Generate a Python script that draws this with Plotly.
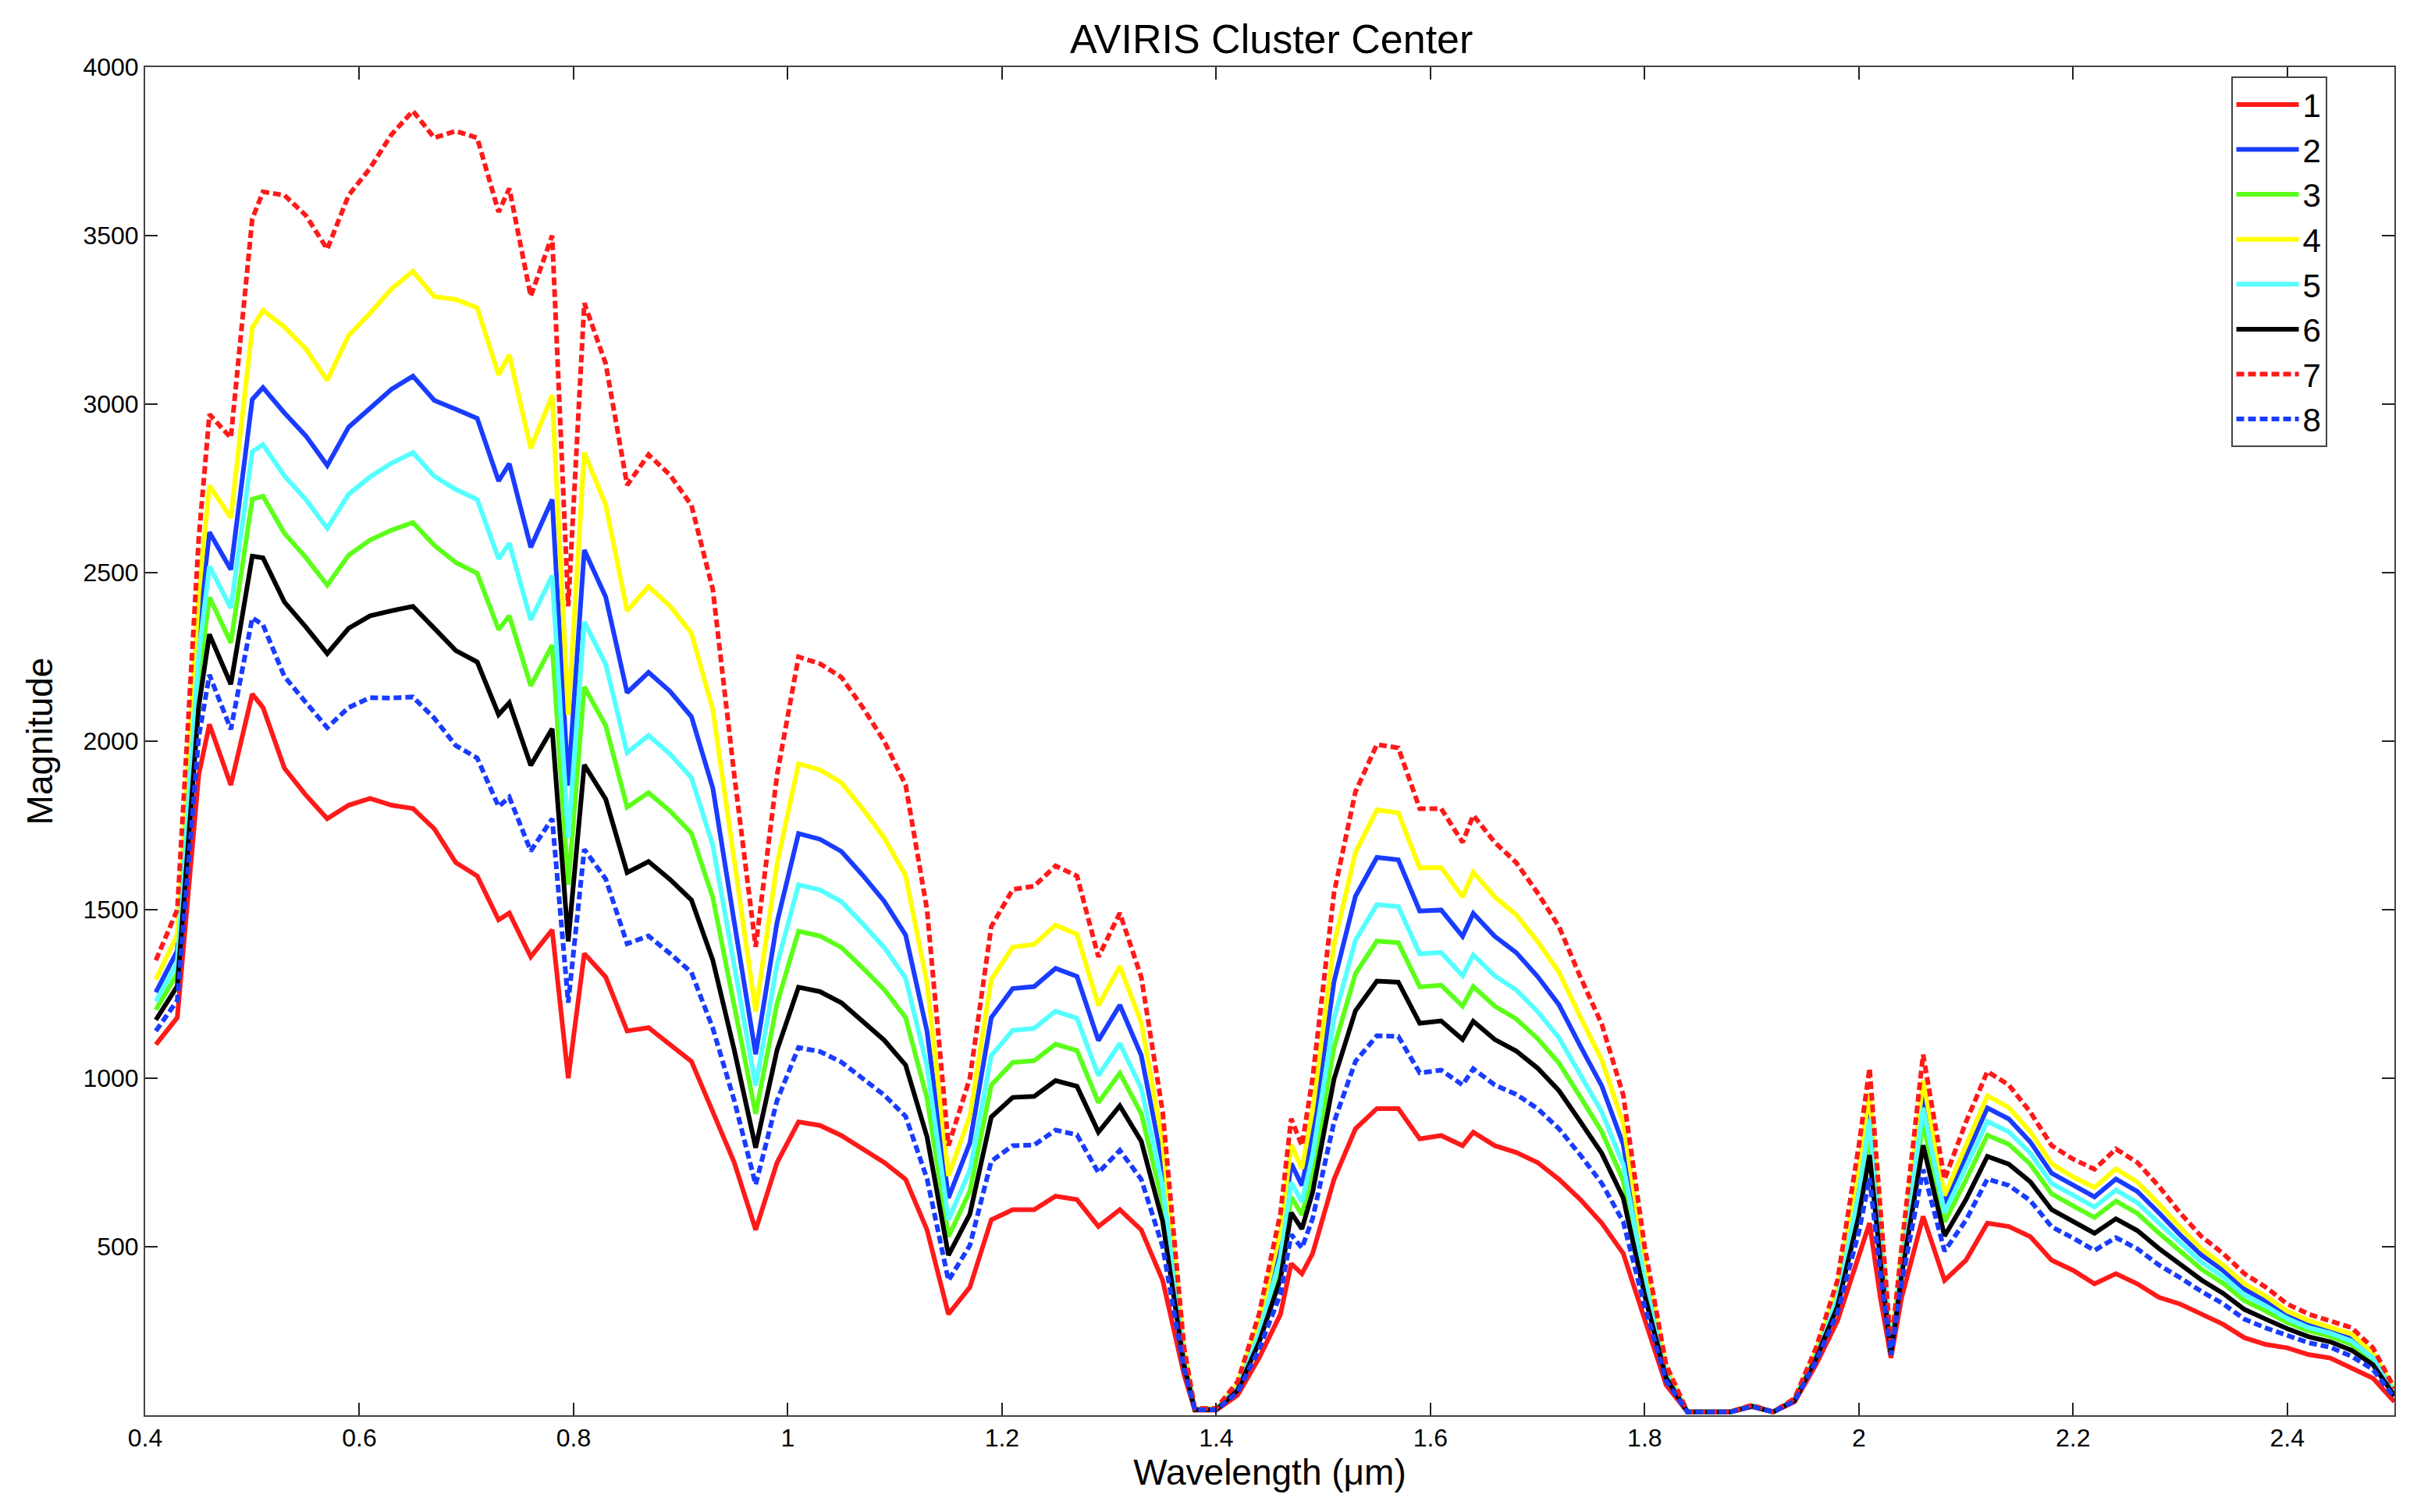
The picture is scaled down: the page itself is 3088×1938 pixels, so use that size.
import plotly.graph_objects as go

wavelength = [
    0.41, 0.43, 0.45, 0.46, 0.48, 0.50, 0.51, 0.53, 0.55, 0.57, 0.59, 0.61, 0.63, 0.65, 0.67, 0.69,
    0.71, 0.73, 0.74, 0.76, 0.78, 0.795, 0.81, 0.83, 0.85, 0.87, 0.89, 0.91, 0.93, 0.95, 0.97, 0.99,
    1.01, 1.03, 1.05, 1.07, 1.09, 1.11, 1.13, 1.15, 1.17, 1.19, 1.21, 1.23, 1.25, 1.27, 1.29, 1.31,
    1.33, 1.35, 1.37, 1.38, 1.40, 1.42, 1.44, 1.46, 1.47, 1.48, 1.49, 1.51, 1.53, 1.55, 1.57, 1.59,
    1.61, 1.63, 1.64, 1.66, 1.68, 1.70, 1.72, 1.74, 1.76, 1.78, 1.80, 1.82, 1.84, 1.86, 1.88, 1.90,
    1.92, 1.94, 1.96, 1.98, 2.00, 2.01, 2.02, 2.03, 2.04, 2.06, 2.08, 2.10, 2.12, 2.14, 2.16, 2.18,
    2.20, 2.22, 2.24, 2.26, 2.28, 2.30, 2.32, 2.34, 2.36, 2.38, 2.40, 2.42, 2.44, 2.46, 2.48, 2.50,
]

c1 = [
    1100, 1180, 1900, 2050, 1870, 2140, 2100, 1920, 1840, 1770, 1810, 1830, 1810, 1800, 1740, 1640,
    1600, 1470, 1490, 1360, 1440, 1000, 1370, 1300, 1140, 1150, 1100, 1050, 900, 750, 550, 750,
    870, 860, 830, 790, 750, 700, 550, 300, 380, 580, 610, 610, 650, 640, 560, 610,
    550, 400, 120, 15, 15, 60, 170, 300, 450, 420, 480, 700, 850, 910, 910, 820,
    830, 800, 840, 800, 780, 750, 700, 640, 570, 480, 280, 90, 10, 10, 10, 25,
    10, 40, 150, 280, 480, 570, 350, 170, 350, 590, 400, 460, 570, 560, 530, 460,
    430, 390, 420, 390, 350, 330, 300, 270, 230, 210, 200, 180, 170, 140, 110, 40,
]
c2 = [
    1255, 1378, 2334, 2620, 2509, 3014, 3049, 2974, 2906, 2818, 2932, 2989, 3044, 3083, 3011, 2985,
    2958, 2772, 2823, 2575, 2717, 1868, 2567, 2428, 2144, 2204, 2148, 2073, 1861, 1463, 1071, 1463,
    1726, 1709, 1673, 1602, 1525, 1425, 1139, 645, 808, 1180, 1266, 1272, 1326, 1302, 1112, 1217,
    1068, 745, 175, 18, 18, 88, 260, 507, 747, 682, 839, 1287, 1540, 1655, 1648, 1496,
    1499, 1421, 1489, 1421, 1373, 1302, 1218, 1095, 977, 804, 432, 131, 10, 10, 10, 28,
    10, 47, 185, 363, 701, 920, 540, 193, 464, 955, 628, 772, 912, 879, 811, 718,
    681, 648, 701, 664, 601, 535, 475, 430, 374, 339, 299, 271, 254, 231, 178, 70,
]
c3 = [
    1203, 1311, 2187, 2427, 2292, 2718, 2727, 2617, 2545, 2463, 2552, 2597, 2626, 2649, 2581, 2530,
    2498, 2331, 2372, 2164, 2285, 1574, 2161, 2046, 1804, 1847, 1793, 1727, 1536, 1222, 894, 1222,
    1436, 1422, 1388, 1327, 1263, 1180, 940, 530, 665, 980, 1047, 1052, 1101, 1082, 928, 1015,
    895, 630, 157, 17, 17, 78, 230, 438, 648, 595, 719, 1091, 1310, 1407, 1402, 1271,
    1276, 1214, 1272, 1214, 1176, 1118, 1045, 944, 841, 696, 381, 118, 10, 10, 10, 27,
    10, 45, 173, 335, 627, 837, 495, 187, 437, 868, 574, 698, 831, 804, 745, 657,
    621, 587, 635, 599, 541, 487, 433, 392, 340, 309, 275, 250, 234, 210, 162, 63,
]
c4 = [
    1293, 1426, 2439, 2758, 2663, 3226, 3278, 3229, 3164, 3071, 3204, 3270, 3342, 3394, 3319, 3311,
    3286, 3087, 3146, 2869, 3026, 2078, 2856, 2701, 2387, 2459, 2401, 2321, 2094, 1636, 1197, 1636,
    1933, 1915, 1877, 1799, 1713, 1601, 1282, 710, 888, 1293, 1389, 1397, 1454, 1427, 1216, 1332,
    1165, 810, 186, 19, 19, 93, 277, 546, 803, 732, 906, 1397, 1670, 1796, 1787, 1624,
    1625, 1538, 1611, 1538, 1485, 1406, 1315, 1181, 1054, 865, 460, 139, 10, 10, 10, 29,
    10, 48, 191, 378, 742, 956, 560, 195, 476, 993, 652, 804, 948, 913, 841, 746,
    707, 676, 731, 692, 627, 557, 493, 446, 390, 353, 309, 281, 262, 241, 186, 74,
]
c5 = [
    1228, 1343, 2257, 2519, 2395, 2859, 2880, 2787, 2717, 2632, 2733, 2784, 2825, 2856, 2786, 2747,
    2717, 2541, 2587, 2360, 2491, 1714, 2354, 2228, 1966, 2017, 1962, 1892, 1691, 1337, 978, 1337,
    1574, 1559, 1524, 1458, 1388, 1297, 1035, 580, 727, 1067, 1142, 1148, 1199, 1178, 1008, 1103,
    970, 680, 165, 18, 18, 82, 243, 468, 691, 633, 771, 1176, 1410, 1515, 1509, 1369,
    1373, 1304, 1366, 1304, 1262, 1198, 1120, 1010, 900, 743, 403, 124, 10, 10, 10, 28,
    10, 46, 178, 347, 659, 878, 518, 190, 451, 912, 601, 735, 872, 841, 778, 688,
    651, 618, 668, 631, 571, 511, 454, 411, 357, 324, 287, 260, 244, 220, 170, 67,
]
c6 = [
    1173, 1273, 2103, 2317, 2169, 2549, 2544, 2413, 2339, 2260, 2335, 2372, 2387, 2400, 2335, 2269,
    2235, 2079, 2114, 1928, 2037, 1406, 1930, 1828, 1610, 1643, 1590, 1529, 1350, 1084, 794, 1084,
    1270, 1257, 1224, 1170, 1113, 1039, 826, 475, 597, 885, 943, 946, 993, 976, 840, 918,
    813, 575, 148, 17, 17, 74, 216, 405, 601, 553, 662, 998, 1200, 1288, 1285, 1163,
    1170, 1115, 1169, 1115, 1081, 1030, 963, 871, 777, 645, 357, 111, 10, 10, 10, 27,
    10, 44, 168, 322, 592, 772, 460, 183, 416, 801, 532, 640, 768, 745, 693, 610,
    575, 540, 583, 548, 495, 449, 401, 362, 314, 285, 257, 233, 218, 193, 150, 58,
]
c7 = [
    1350, 1500, 2600, 2970, 2900, 3550, 3630, 3620, 3560, 3460, 3620, 3700, 3800, 3870, 3790, 3810,
    3790, 3570, 3640, 3320, 3500, 2400, 3300, 3120, 2760, 2850, 2790, 2700, 2450, 1900, 1390, 1900,
    2250, 2230, 2190, 2100, 2000, 1870, 1500, 800, 1000, 1450, 1560, 1570, 1630, 1600, 1360, 1490,
    1300, 900, 200, 20, 20, 100, 300, 600, 880, 800, 1000, 1550, 1850, 1990, 1980, 1800,
    1800, 1700, 1780, 1700, 1640, 1550, 1450, 1300, 1160, 950, 500, 150, 10, 10, 10, 30,
    10, 50, 200, 400, 800, 1030, 600, 200, 500, 1070, 700, 870, 1020, 980, 900, 800,
    760, 730, 790, 750, 680, 600, 530, 480, 420, 380, 330, 300, 280, 260, 200, 80,
]
c8 = [
    1140, 1231, 2012, 2197, 2035, 2366, 2345, 2192, 2115, 2040, 2100, 2129, 2128, 2131, 2068, 1987,
    1950, 1806, 1834, 1674, 1770, 1224, 1679, 1591, 1399, 1422, 1370, 1314, 1148, 934, 684, 934,
    1091, 1079, 1048, 1000, 950, 887, 702, 400, 504, 754, 800, 802, 846, 832, 720, 786,
    700, 500, 136, 16, 16, 68, 196, 360, 536, 496, 584, 870, 1050, 1126, 1124, 1016,
    1024, 980, 1028, 980, 952, 910, 850, 772, 688, 574, 324, 102, 10, 10, 10, 26,
    10, 42, 160, 304, 544, 703, 423, 179, 394, 729, 487, 579, 701, 682, 637, 559,
    526, 489, 527, 494, 446, 408, 367, 331, 285, 259, 238, 215, 202, 175, 136, 52,
]

names = ["1", "2", "3", "4", "5", "6", "7", "8"]
series = [c1, c2, c3, c4, c5, c6, c7, c8]
colors = ["#ff1a1a", "#1a3cff", "#5cff1a", "#ffff00", "#55ffff", "#000000", "#ff1a1a", "#1a3cff"]
dashes = ["solid"] * 6 + ["10px,5px", "10px,5px"]

font = "Liberation Sans, Arial, sans-serif"

fig = go.Figure()
for name, vals, col, dash in zip(names, series, colors, dashes):
    fig.add_trace(
        go.Scatter(
            x=wavelength, y=vals, mode="lines", name=name,
            line=dict(color=col, width=6, dash=dash),
        )
    )

axis_common = dict(
    showline=True, linecolor="#444", linewidth=2, mirror="ticks",
    ticks="inside", ticklen=16, tickwidth=2, tickcolor="#222",
    showgrid=False, zeroline=False,
    tickfont=dict(size=32, color="black", family=font),
)

fig.update_layout(
    width=3088, height=1938,
    paper_bgcolor="white", plot_bgcolor="white",
    font=dict(family=font, color="black"),
    title=dict(text="AVIRIS Cluster Center", x=0.525, xanchor="center", y=0.988, yanchor="top",
               font=dict(size=52, color="black")),
    margin=dict(l=178, r=28, t=78, b=132),
    xaxis=dict(range=[0.4, 2.5], tickvals=[0.4, 0.6, 0.8, 1.0, 1.2, 1.4, 1.6, 1.8, 2.0, 2.2, 2.4],
               ticktext=["0.4", "0.6", "0.8", "1", "1.2", "1.4", "1.6", "1.8", "2", "2.2", "2.4"],
               title=dict(text="Wavelength (μm)", font=dict(size=46), standoff=10), **axis_common),
    yaxis=dict(range=[0, 4000], tickvals=[500, 1000, 1500, 2000, 2500, 3000, 3500, 4000],
               title=dict(text="Magnitude", font=dict(size=46), standoff=24), **axis_common),
    legend=dict(x=0.97, xanchor="right", y=0.993, yanchor="top",
                bgcolor="white", bordercolor="#444", borderwidth=2,
                font=dict(size=42, color="black"), itemwidth=80, tracegroupgap=0),
)

fig.write_html("out.html")
